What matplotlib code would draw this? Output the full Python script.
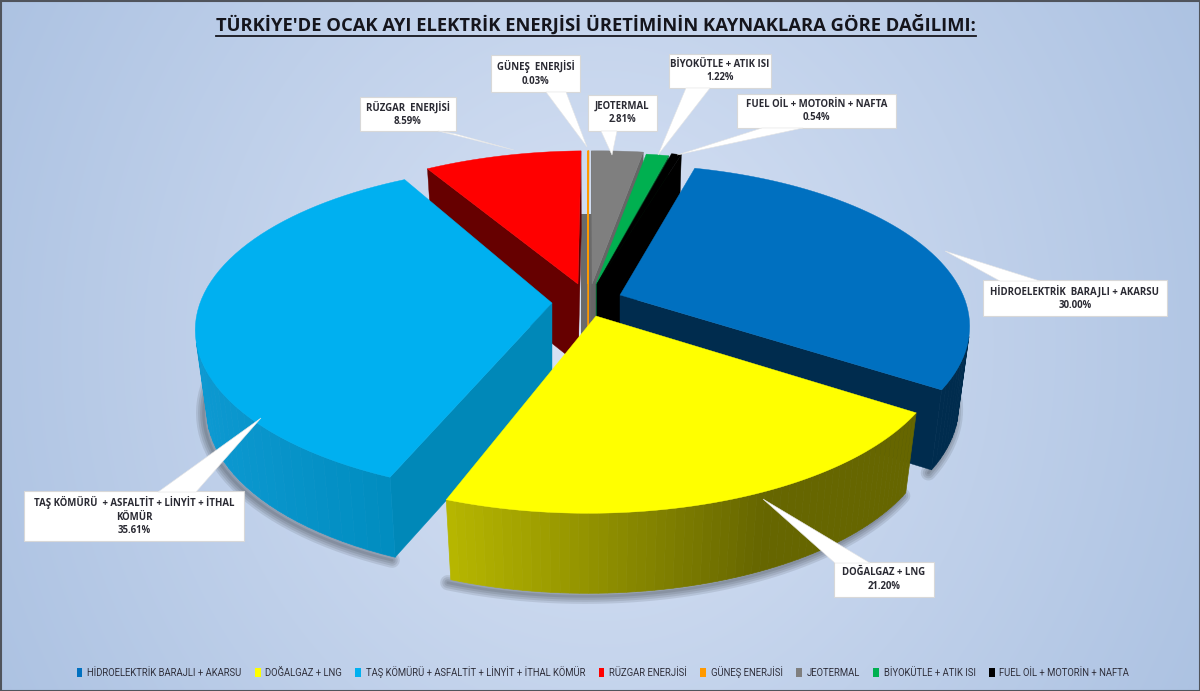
import numpy as np
import matplotlib
matplotlib.use('Agg')
import matplotlib.pyplot as plt
from matplotlib.patches import Polygon, Rectangle, Patch

title = "TÜRKİYE'DE OCAK AYI ELEKTRİK ENERJİSİ ÜRETİMİNİN KAYNAKLARA GÖRE DAĞILIMI:"

sources = ['HİDROELEKTRİK BARAJLI + AKARSU', 'DOĞALGAZ + LNG',
           'TAŞ KÖMÜRÜ + ASFALTİT + LİNYİT + İTHAL KÖMÜR', 'RÜZGAR ENERJİSİ',
           'GÜNEŞ ENERJİSİ', 'JEOTERMAL', 'BİYOKÜTLE + ATIK ISI', 'FUEL OİL + MOTORİN + NAFTA']
shares = [30.00, 21.20, 35.61, 8.59, 0.03, 2.81, 1.22, 0.54]
box_labels = ['HİDROELEKTRİK  BARAJLI + AKARSU', 'DOĞALGAZ + LNG',
              'TAŞ KÖMÜRÜ  + ASFALTİT + LİNYİT + İTHAL\nKÖMÜR', 'RÜZGAR  ENERJİSİ',
              'GÜNEŞ  ENERJİSİ', 'JEOTERMAL', 'BİYOKÜTLE + ATIK ISI', 'FUEL OİL + MOTORİN + NAFTA']

top_colors = ['#0070c0', '#ffff00', '#00b0f0', '#ff0000', '#ff9900', '#7f7f7f', '#00b050', '#000000']
side_colors = ['#002c4e', '#666600', '#0088b8', '#660000', '#ff9900', '#666666', '#006a30', '#000000']

# pixel layout of the exploded pie
start_bearing = 15
rim_centers = [(620, 295), (588, 316), (552, 298), (589, 284), (596, 284), (599, 284), (602, 286), (605, 284)]
tips = [(620, 295), (596, 316), (552, 303), (578, 284), (588, 284), (592, 284), (596, 284), (597, 284)]
rim_scale = [0.98, 1, 1, 1, 1, 1, 1, 1]
rim_turn = [0, 0, 3, 0, 0, 0, 0, 0]
radius_x, radius_y, persp = 350, 159, 0.194
depth, depth_shrink = 80, 0.968
draw_order = [3, 5, 4, 6, 7, 0, 2, 1]

boxes = [(983, 280, 1167, 316), (834, 562, 934, 597), (24, 491, 244, 541), (360, 97, 456, 131),
         (491, 55, 580, 92), (588, 95, 657, 131), (669, 54, 771, 88), (737, 94, 896, 128)]
callouts = [((945, 251), (1000, 281), (1040, 281)), ((763, 499), (835, 563), (870, 563)),
            ((261, 418), (158, 492), (196, 492)), ((514, 150), (438, 131), (456, 134)),
            ((587, 147), (546, 92), (566, 92)), ((612, 155), (601, 131), (617, 131)),
            ((658, 155), (686, 88), (710, 88)), ((677, 155), (762, 128), (803, 128))]


def project(bearing, center, scale):
    b = np.radians(bearing)
    u, v = np.sin(b), np.cos(b)
    w = 1 + persp * v
    return center[0] + scale * radius_x * u / w, center[1] - scale * radius_y * v / w


def lower(x, y, center):
    return center[0] + (x - center[0]) * depth_shrink, y + depth


def cross_sign(a, b, c):
    return (b[0] - a[0]) * (c[1] - b[1]) - (b[1] - a[1]) * (c[0] - b[0])


def wall_color(i, x):
    # the yellow and light blue walls fade along the rim, the others are flat
    if i == 1:
        t = np.clip((x - 447) / (770 - 447), 0, 1)
        c0, c1 = np.array([0.72, 0.72, 0.0]), np.array([0.40, 0.40, 0.0])
        return tuple(c0 + (c1 - c0) * t)
    if i == 2:
        t = np.clip((x - 200) / 200, 0, 1)
        c0, c1 = np.array([0.05, 0.60, 0.82]), np.array([0.0, 0.55, 0.75])
        return tuple(c0 + (c1 - c0) * t)
    return side_colors[i]


fig = plt.figure(figsize=(12, 6.91), dpi=100)
ax = fig.add_axes([0, 0, 1, 1])
ax.set_xlim(0, 1200)
ax.set_ylim(691, 0)
ax.axis('off')

# background
yy, xx = np.mgrid[0:1:173j, 0:1:300j]
dist = np.sqrt(((xx - 0.5) / 0.62) ** 2 + ((yy - 0.5) / 1.2) ** 2)
dist = np.clip(dist, 0, 1)[..., None]
bg = np.array([0.85, 0.89, 0.96]) * (1 - dist) + np.array([0.66, 0.75, 0.88]) * dist
ax.imshow(bg, extent=(0, 1200, 691, 0), aspect='auto', zorder=0, interpolation='bilinear')
ax.add_patch(Rectangle((0.5, 0.5), 1199, 690, fill=False, ec='#50545c', lw=1.5, zorder=1))

edges = np.cumsum([0] + shares) * 3.6 + start_bearing

# soft shadow below the front slices
for i in [0, 1, 2]:
    bearings = np.linspace(edges[i], edges[i + 1], 60) + rim_turn[i]
    x, y = project(bearings, rim_centers[i], rim_scale[i])
    xb, yb = lower(x, y, rim_centers[i])
    for lw in [11, 8, 5, 2]:
        ax.plot(xb - 3, yb + 3, color='black', lw=lw, alpha=0.09, zorder=2, solid_capstyle='round')

# inner wall seen through the gap between red and grey
ax.add_patch(Polygon([(581, 214), (592, 214), (592, 350), (581, 350)], fc='#6a6a6a', ec='none', zorder=2.5))

z = 3
for i in draw_order:
    c = rim_centers[i]
    tip = tips[i]
    tip_low = (tip[0], tip[1] + depth)
    bearings = np.linspace(edges[i], edges[i + 1], 60) + rim_turn[i]
    x, y = project(bearings, c, rim_scale[i])
    xb, yb = lower(x, y, c)
    thin = shares[i] < 0.1

    # radial faces
    first = (x[0], y[0])
    if thin or cross_sign(tip, first, (xb[0], yb[0])) < 0:
        ax.add_patch(Polygon([tip, first, (xb[0], yb[0]), tip_low], fc=side_colors[i], ec=side_colors[i], lw=0.6 if thin else 0.3, zorder=z))
    last = (x[-1], y[-1])
    if cross_sign(tip, last, (xb[-1], yb[-1])) > 0:
        ax.add_patch(Polygon([tip, last, (xb[-1], yb[-1]), tip_low], fc=side_colors[i], ec=side_colors[i], lw=0.3, zorder=z))

    # outer wall, strip by strip
    for k in range(len(x) - 1):
        a, b = (x[k], y[k]), (x[k + 1], y[k + 1])
        if cross_sign(a, b, (xb[k + 1], yb[k + 1])) < 0:
            col = wall_color(i, x[k])
            ax.add_patch(Polygon([a, b, (xb[k + 1], yb[k + 1]), (xb[k], yb[k])], fc=col, ec=col, lw=0.5, zorder=z))

    top = [tip] + list(zip(x, y))
    ax.add_patch(Polygon(top, fc=top_colors[i], ec=top_colors[i], lw=1.0 if thin else 0.3, zorder=z + 0.5))
    z += 1

# data labels with white callouts
for i in range(len(sources)):
    x0, y0, x1, y1 = boxes[i]
    ax.add_patch(Rectangle((x0, y0), x1 - x0, y1 - y0, fc='white', ec='#d8d8d8', lw=0.8, zorder=30))
    ax.add_patch(Polygon(callouts[i], fc='white', ec='#e4e4e4', lw=0.4, zorder=31))
    ax.text((x0 + x1) / 2, (y0 + y1) / 2, '%s\n%.2f%%' % (box_labels[i], shares[i]), ha='center', va='center',
            fontsize=6.9, family='Open Sans', weight='bold', color='#2a2a33', linespacing=1.35, zorder=32)

# title
t = ax.text(596, 25, title, ha='center', va='center', fontsize=13.2, family='Open Sans', weight='bold', color='#15151c', zorder=40)
fig.canvas.draw()
ext = t.get_window_extent()
ax.plot([ext.x0, ext.x1], [36, 36], color='#15151c', lw=1.3, zorder=40)

handles = [Patch(fc=col, ec='none') for col in top_colors]
ax.legend(handles, sources, ncol=8, loc='center', bbox_to_anchor=(603 / 1200, 1 - 672 / 691), frameon=False,
          prop={'family': 'Roboto', 'size': 6.85}, labelcolor='#30303c', handlelength=0.6, handleheight=1.0,
          handletextpad=0.5, columnspacing=1.4)

fig.savefig('out.png', dpi=100)
